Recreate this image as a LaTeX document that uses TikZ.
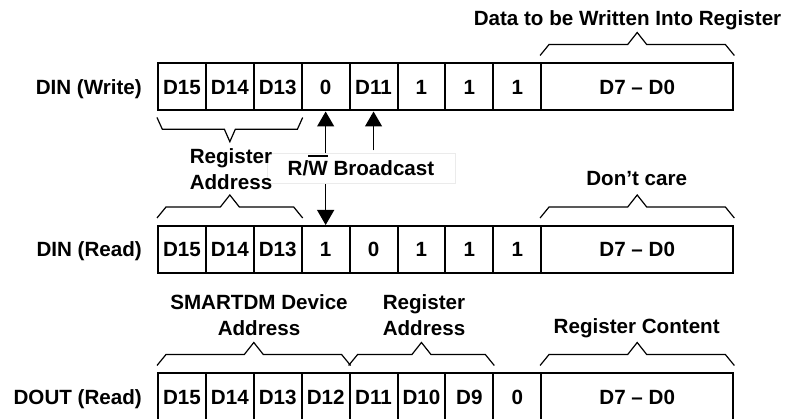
\documentclass[tikz,border=0pt]{standalone}
\usepackage{fontspec}
\setmainfont{Liberation Sans}
\usetikzlibrary{positioning,calc,arrows.meta}

\tikzset{
  cell/.style={draw, line width=2pt, minimum width=47.9pt, minimum height=47pt,
    inner sep=0pt, text height=14.5pt, text depth=0pt},
  txt/.style={inner sep=0pt, text height=14.5pt, text depth=0pt},
  twoline/.style={inner sep=0pt, align=center},
  brace/.style={line width=1.2pt},
  arw/.style={line width=1.3pt, >={Triangle[width=17pt,length=15pt]}}
}
\newsavebox{\wbox}
\newcommand{\wbar}[1]{\sbox{\wbox}{#1}\rlap{\smash{\rule[19pt]{\wd\wbox}{2pt}}}\usebox{\wbox}}
\newcommand{\bracetop}[2]{%
  \draw[brace] ($(#1.north west)+(0,-7)$) -- ++(9,-11)
    -- ($(#1.north west)!.5!(#2.north east)+(-9.5,-18)$) -- ++(9.5,-12) -- ++(9.5,12)
    -- ($(#2.north east)+(-9,-18)$) -- ++(9,11);}
\newcommand{\bracebot}[2]{%
  \draw[brace] ($(#1.south west)+(0,6)$) -- ++(5.3,11.7)
    -- ($(#1.south west)!.5!(#2.south east)+(-5.5,17.7)$) -- ++(5.5,12.5) -- ++(5.5,-12.5)
    -- ($(#2.south east)+(-5.3,17.7)$) -- ++(5.3,-11.7);}

\begin{document}
\begin{tikzpicture}[x=1pt,y=-1pt,font=\fontsize{20.6}{26.6}\selectfont\bfseries]
   \useasboundingbox (0,0) rectangle (788,419);
   \clip (0,0) rectangle (788,419);

   \foreach \t [count=\i] in {D15,D14,D13,0,D11,1,1,1}
     \node[cell] (w\i) at ({158+47.9*(\i-0.5)},87) {\t};
   \node[cell, minimum width=192.3pt] (w9) at (637.2,87) {D7 – D0};
   \node[txt, left=15pt of w1] (lw) {DIN (Write)};

   \foreach \t [count=\i] in {D15,D14,D13,1,0,1,1,1}
     \node[cell] (r\i) at ({158+47.9*(\i-0.5)},249.5) {\t};
   \node[cell, minimum width=192.3pt] (r9) at (637.2,249.5) {D7 – D0};
   \node[txt, left=15pt of r1] (lr) {DIN (Read)};

   \foreach \t [count=\i] in {D15,D14,D13,D12,D11,D10,D9,0}
     \node[cell] (o\i) at ({158+47.9*(\i-0.5)},397) {\t};
   \node[cell, minimum width=192.3pt] (o9) at (637.2,397) {D7 – D0};
   \node[txt, left=15pt of o1] (lo) {DOUT (Read)};

   \draw[arw, <->] (w4.south) -- (r4.north);
   \node[txt, draw=black!8, fill=white, minimum width=188pt, minimum height=30pt]
     (trw) at (361,168.3) {R/\wbar{W} Broadcast};
   \coordinate (bc) at ($(w5.south)+(0,39)$);
   \draw[arw, ->] (bc) -- (w5.south);

   \bracetop{w9}{w9}
   \node[txt] (tdata) at (627.5,18.5) {Data to be Written Into Register};
   \bracebot{w1}{w3}
   \node[twoline] (treg) at (231,169.3) {Register\\Address};
   \bracetop{r1}{r3}
   \bracetop{r9}{r9}
   \node[txt] (tdont) at (636.7,178.3) {Don’t care};

   \bracetop{o1}{o4}
   \bracetop{o5}{o7}
   \bracetop{o9}{o9}
   \node[twoline] (tsmart) at (259,315) {SMARTDM Device\\Address};
   \node[twoline] (treg2) at (424,315) {Register\\Address};
   \node[txt] (tcont) at (636.7,326) {Register Content};
\end{tikzpicture}
\end{document}
